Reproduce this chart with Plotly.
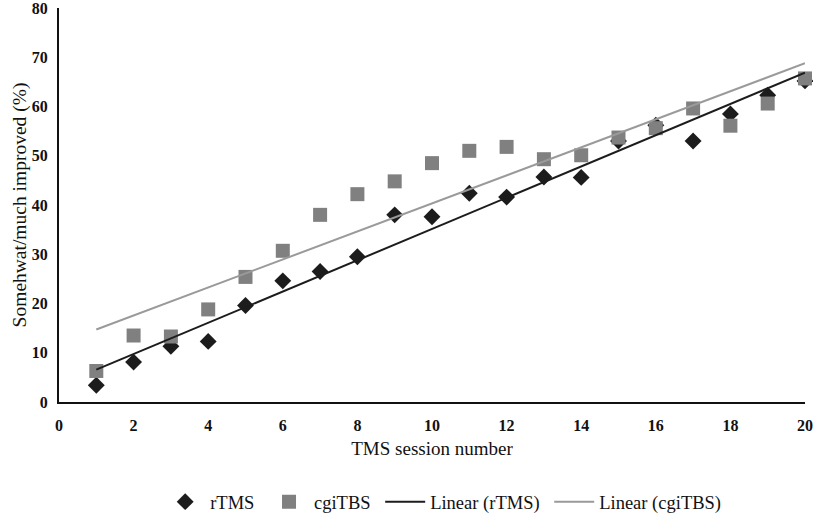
import numpy as np
import plotly.graph_objects as go

sessions = list(range(1, 21))
rtms = [3.4, 8.1, 11.3, 12.3, 19.6, 24.6, 26.5, 29.5, 38.0, 37.6,
        42.4, 41.6, 45.7, 45.6, 53.0, 56.2, 53.0, 58.5, 62.3, 65.2]
cgitbs = [6.3, 13.5, 13.3, 18.8, 25.4, 30.7, 38.0, 42.2, 44.8, 48.5,
          51.0, 51.8, 49.3, 50.1, 53.7, 55.6, 59.6, 56.1, 60.6, 65.7]

x = np.array(sessions, dtype=float)
fit_r = np.polyfit(x, rtms, 1)
fit_c = np.polyfit(x, cgitbs, 1)
xl = np.array([sessions[0], sessions[-1]], dtype=float)

font_fam = "Liberation Serif, Times New Roman, serif"

fig = go.Figure()
fig.add_trace(go.Scatter(x=sessions, y=rtms, mode="markers", name="rTMS\u00a0",
                         marker=dict(symbol="diamond", size=13, color="#1c1c1c"),
                         cliponaxis=False))
fig.add_trace(go.Scatter(x=sessions, y=cgitbs, mode="markers", name="cgiTBS\u00a0",
                         marker=dict(symbol="square", size=14, color="#808080"),
                         cliponaxis=False))
fig.add_trace(go.Scatter(x=xl, y=np.polyval(fit_r, xl), mode="lines", name="Linear (rTMS)\u00a0",
                         line=dict(color="#1c1c1c", width=2)))
fig.add_trace(go.Scatter(x=xl, y=np.polyval(fit_c, xl), mode="lines", name="Linear (cgiTBS)",
                         line=dict(color="#9a9a9a", width=2)))

fig.update_layout(
    width=813, height=515,
    margin=dict(l=59, r=8, t=8, b=113),
    paper_bgcolor="white", plot_bgcolor="white",
    font=dict(family=font_fam, color="#111111"),
    showlegend=True,
    legend=dict(orientation="h", x=0.515, xanchor="center",
                yref="container", y=0.025, yanchor="middle",
                font=dict(size=18.5, family=font_fam), itemwidth=40,
                traceorder="normal"),
    xaxis=dict(range=[0, 20], tickmode="array", tickvals=list(range(0, 21, 2)),
               showgrid=False, zeroline=False, showline=True, linecolor="#111111",
               linewidth=2, ticks="", automargin=False, ticklabeloverflow="allow",
               ticklabelstandoff=8,
               tickfont=dict(size=16, family=font_fam, weight="bold"),
               title=dict(text="TMS session number", font=dict(size=19, family=font_fam),
                          standoff=8)),
    yaxis=dict(range=[0, 80], tickmode="array", tickvals=list(range(0, 81, 10)),
               showgrid=False, zeroline=False, showline=True, linecolor="#111111",
               linewidth=2, ticks="", automargin=False, ticklabeloverflow="allow",
               ticklabelstandoff=6,
               tickfont=dict(size=16, family=font_fam, weight="bold"),
               title=dict(text="Somehwat/much improved (%)", font=dict(size=19.5, family=font_fam),
                          standoff=0)),
)

fig.write_html("out.html")
